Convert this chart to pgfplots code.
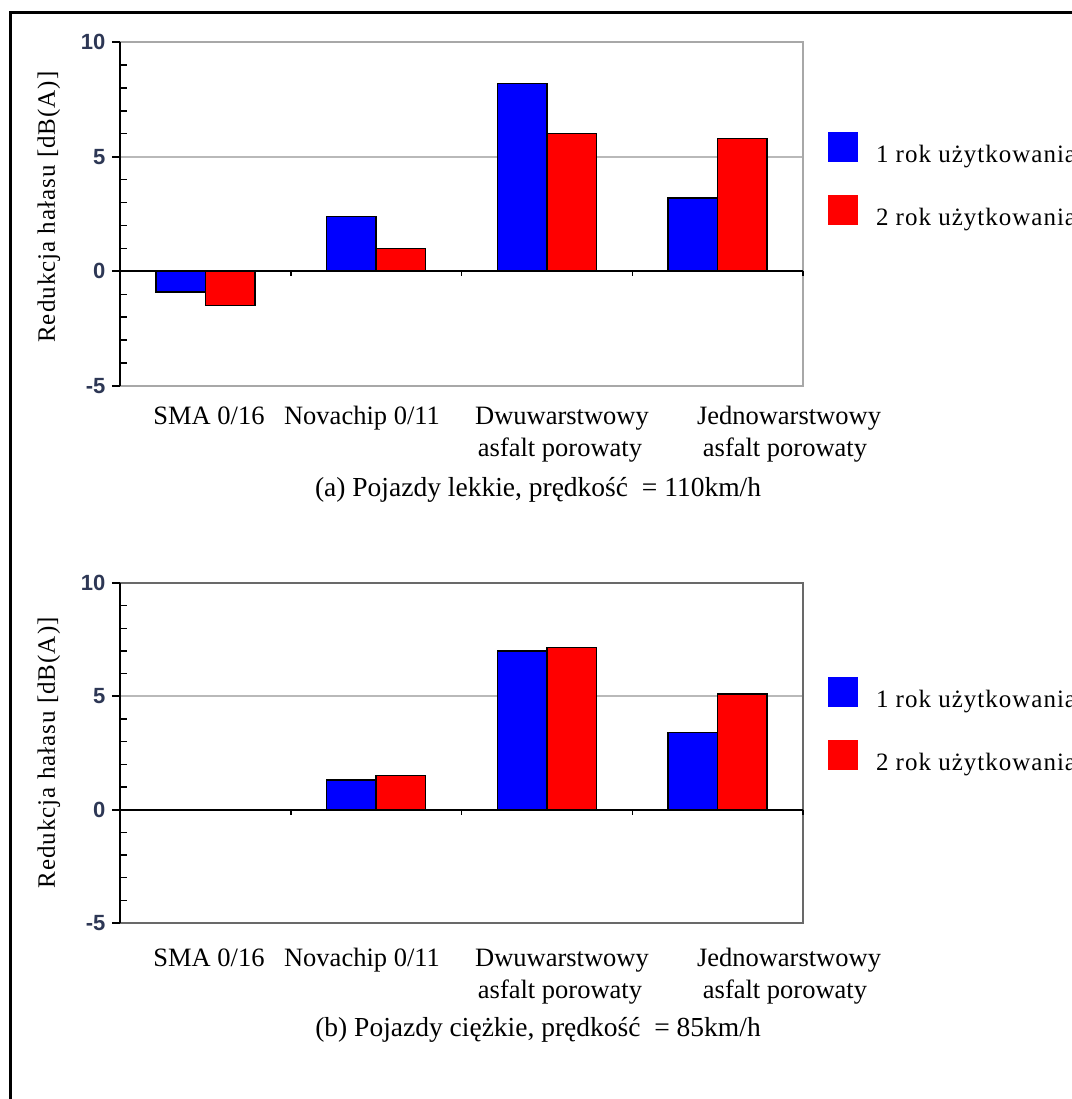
\documentclass[border=0pt]{standalone}
\usepackage{pgfplots}
\pgfplotsset{compat=1.18}
\usepackage{fontspec}
\setmainfont{Liberation Serif}
\newfontfamily\spacedserif[LetterSpace=4]{Liberation Serif}
\newfontfamily\tickfont{Liberation Sans}
\definecolor{barblue}{RGB}{0,0,255}
\definecolor{barred}{RGB}{255,0,0}
\definecolor{tickcol}{RGB}{45,55,85}
\definecolor{framelight}{RGB}{168,168,168}
\definecolor{framedark}{RGB}{105,105,105}
\definecolor{gridcol}{RGB}{185,185,185}

\pgfplotstableread{
x blue red
0 -0.9 -1.5
1 2.4 1.0
2 8.2 6.0
3 3.2 5.8
}\lightdata
\pgfplotstableread{
x blue red
1 1.3 1.5
2 7.0 7.15
3 3.4 5.1
}\heavydata

\pgfplotsset{
  mybars/.style={
    scale only axis, width=683pt,
    xmin=-0.5, xmax=3.5, ymin=-5, ymax=10,
    ybar=0pt, bar width=0.29,
    axis line style={draw=none},
    xtick=\empty,
    ytick={-5,0,5,10}, yticklabels={-5,0,5,10},
    minor ytick={-4,-3,-2,-1,1,2,3,4,6,7,8,9},
    ytick pos=left,
    tick align=outside,
    major tick length=8pt, minor tick length=7pt,
    major tick style={line width=2pt, black},
    minor tick style={line width=1.5pt, black, xshift=7pt},
    yticklabel style={font=\tickfont\bfseries\fontsize{22}{22}\selectfont, text=tickcol, xshift=-3pt},
    ymajorgrids, grid style={gridcol, line width=2pt},
    ylabel={Redukcja hałasu [dB(A)]},
    ylabel style={font=\spacedserif\fontsize{25}{25}\selectfont, anchor=center},
    clip=false,
    legend cell align=left,
    legend style={draw=none, fill=none, anchor=north west,
      inner sep=0pt, outer sep=0pt, row sep=30.5pt, column sep=18pt,
      font=\spacedserif\fontsize{25}{25}\selectfont,
      nodes={inner sep=0pt, outer sep=0pt}},
  },
  sqleg/.style={legend image code/.code={\fill[##1,draw=none] (0pt,-7pt) rectangle (30pt,23pt);}},
}

\begin{document}
\begin{tikzpicture}
% outer frame
\draw[line width=3pt] (10pt,-1110pt) -- (10pt,-13pt) -- (1080pt,-13pt);

% ---------- top chart ----------
\begin{axis}[mybars, height=344pt, at={(120pt,-386pt)}, anchor=south west,
  ylabel style={at={(axis description cs:-0.104,0.52)}},
  legend style={at={(rel axis cs:1.0366,0.7384)}}]
\addplot[fill=barblue, draw=black, line width=1.5pt, sqleg] table[x=x,y=blue] {\lightdata};
\addlegendentry{1 rok użytkowania}
\addplot[fill=barred, draw=black, line width=1.5pt, sqleg] table[x=x,y=red] {\lightdata};
\addlegendentry{2 rok użytkowania}
\draw[framelight, line width=2pt] (rel axis cs:0,1) -- (rel axis cs:1,1) -- (rel axis cs:1,0) -- (rel axis cs:0,0);
\draw[black, line width=2pt] (rel axis cs:0,0) -- (rel axis cs:0,1);
\draw[black, line width=2pt] (axis cs:-0.5,0) -- (axis cs:3.5,0);
\pgfplotsinvokeforeach{0.5,1.5,2.5,3.5}{\draw[black, line width=1.5pt] (axis cs:#1,0) -- ++(0pt,-5pt);}
\end{axis}

% ---------- bottom chart ----------
\begin{axis}[mybars, height=340pt, at={(120pt,-923pt)}, anchor=south west,
  ylabel style={at={(axis description cs:-0.104,0.5)}},
  legend style={at={(rel axis cs:1.0366,0.7235)}}]
\addplot[fill=barblue, draw=black, line width=1.5pt, sqleg] table[x=x,y=blue] {\heavydata};
\addlegendentry{1 rok użytkowania}
\addplot[fill=barred, draw=black, line width=1.5pt, sqleg] table[x=x,y=red] {\heavydata};
\addlegendentry{2 rok użytkowania}
\draw[framedark, line width=2pt] (rel axis cs:0,1) -- (rel axis cs:1,1) -- (rel axis cs:1,0) -- (rel axis cs:0,0);
\draw[black, line width=2pt] (rel axis cs:0,0) -- (rel axis cs:0,1);
\draw[black, line width=2pt] (axis cs:-0.5,0) -- (axis cs:3.5,0);
\pgfplotsinvokeforeach{0.5,1.5,2.5,3.5}{\draw[black, line width=1.5pt] (axis cs:#1,0) -- ++(0pt,-5pt);}
\end{axis}

% ---------- category labels and captions ----------
\begin{scope}[every node/.style={font=\fontsize{26.5}{26.5}\selectfont, inner sep=0pt, anchor=base}]
\foreach \yo in {0pt,542pt} {
  \node at (209pt,-424pt-\yo) {SMA 0/16};
  \node at (362pt,-424pt-\yo) {Novachip 0/11};
  \node at (562pt,-424pt-\yo) {Dwuwarstwowy};
  \node at (560pt,-456pt-\yo) {asfalt porowaty};
  \node at (789pt,-424pt-\yo) {Jednowarstwowy};
  \node at (785pt,-456pt-\yo) {asfalt porowaty};
}
\node[font=\fontsize{27.5}{27.5}\selectfont] at (538pt,-496pt) {(a) Pojazdy lekkie, prędkość \ = 110km/h};
\node[font=\fontsize{27.5}{27.5}\selectfont] at (538pt,-1036pt) {(b) Pojazdy ciężkie, prędkość \ = 85km/h};
\end{scope}

\pgfresetboundingbox
\useasboundingbox (0pt,0pt) rectangle (1071pt,-1099pt);
\end{tikzpicture}
\end{document}
